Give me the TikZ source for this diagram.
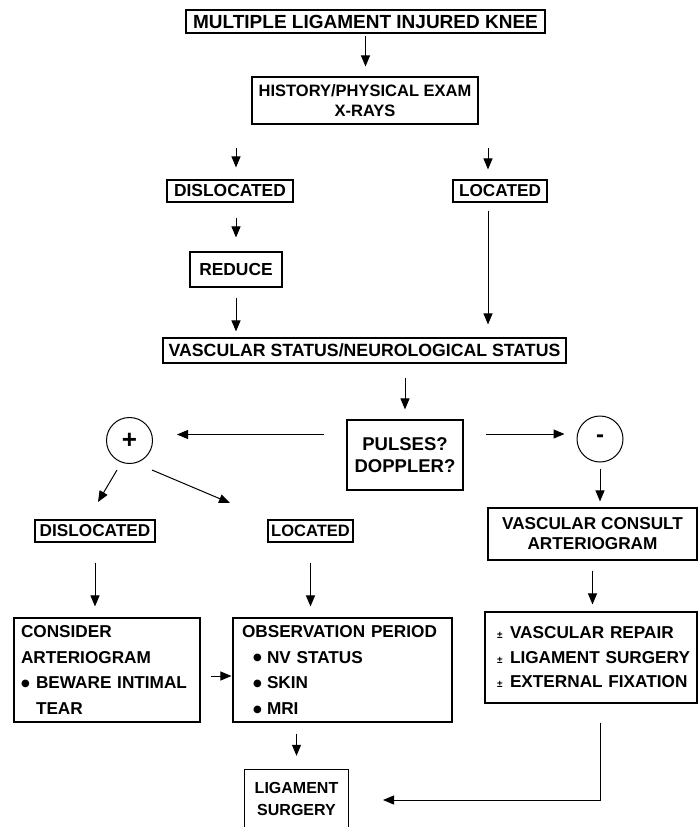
\documentclass[tikz,border=0pt]{standalone}
\usepackage{fontspec}
\setmainfont{Liberation Sans}
\newfontfamily\dejavu{DejaVu Sans}
\usetikzlibrary{arrows.meta,calc}
\newcommand\myfs[2]{\fontsize{#1pt}{#2pt}\selectfont\bfseries}
\newcommand\mybul{{\dejavu\fontsize{10pt}{10pt}\selectfont\raisebox{2.5pt}{●}}}
\newcommand\mypm{{\fontsize{10pt}{10pt}\selectfont ±}}
\begin{document}
\begin{tikzpicture}[x=1pt,y=-1pt,
  box/.style={draw, line width=1.1pt, inner sep=0pt, align=center},
  arr/.style={-{Triangle[length=11pt,width=9pt]}, line width=1pt},
  circ/.style={draw, circle, line width=1pt, minimum size=46pt, inner sep=0pt},
]
\path[use as bounding box] (0,0) rectangle (698,827);

\node[box, minimum width=359pt, minimum height=23pt, font=\myfs{19}{22}] (title) at (365.5,21.5) {MULTIPLE LIGAMENT INJURED KNEE};
\node[box, minimum width=226pt, minimum height=47pt, font=\myfs{16.5}{19.5}] (hist) at (365,100.5) {HISTORY/PHYSICAL EXAM\\X-RAYS};
\node[box, minimum width=126pt, minimum height=22pt, font=\myfs{17.4}{20}] (dis) at (230,191) {DISLOCATED};
\node[box, minimum width=94pt, minimum height=22pt, font=\myfs{17.2}{20}] (loc) at (500,191) {LOCATED};
\node[box, minimum width=92pt, minimum height=35pt, font=\myfs{17.4}{20}] (red) at (236,269.5) {REDUCE};
\node[box, minimum width=403pt, minimum height=25pt, font=\myfs{17.7}{20}] (vasc) at (364.5,350.5) {VASCULAR STATUS/NEUROLOGICAL STATUS};
\node[box, minimum width=116pt, minimum height=70pt, font=\myfs{18.5}{22}] (pulses) at (405,455) {PULSES?\\DOPPLER?};
\node[circ, font=\myfs{26}{26}] (plus) at (129.5,440.5) {+};
\node[circ, font=\myfs{24}{24}] (minus) at (600,439) {-};
\node[box, minimum width=120pt, minimum height=22pt, font=\myfs{17.2}{20}] (dis2) at (95,531) {DISLOCATED};
\node[box, minimum width=85pt, minimum height=22pt, font=\myfs{16.5}{20}] (loc2) at (310.5,531) {LOCATED};
\node[box, align=left, text width=172pt, inner xsep=7pt, inner ysep=0pt, minimum height=104pt, font=\myfs{17.2}{25.7}] (cons) at (107,670)
  {\mbox{CONSIDER}\\\mbox{ARTERIOGRAM}\\\mbox{\makebox[15pt][l]{\mybul}BEWARE INTIMAL}\\\mbox{\hspace*{15pt}TEAR}};
\node[box, align=left, text width=201pt, inner xsep=9pt, inner ysep=0pt, minimum height=104pt, font=\myfs{17.2}{25.7}] (obs) at (342.5,670)
  {\mbox{OBSERVATION PERIOD}\\\mbox{\hspace*{11pt}\makebox[14pt][l]{\mybul}NV STATUS}\\\mbox{\hspace*{11pt}\makebox[14pt][l]{\mybul}SKIN}\\\mbox{\hspace*{11pt}\makebox[14pt][l]{\mybul}MRI}};
\node[box, minimum width=209pt, minimum height=52pt, font=\myfs{17.2}{20}] (vcons) at (592.5,534) {VASCULAR CONSULT\\ARTERIOGRAM};
\node[box, align=left, text width=188pt, inner xsep=12pt, inner ysep=0pt, minimum height=91pt, font=\myfs{17.2}{24.5}] (pm) at (591,657.5)
  {\mbox{\makebox[13pt][l]{\mypm}VASCULAR REPAIR}\\\mbox{\makebox[13pt][l]{\mypm}LIGAMENT SURGERY}\\\mbox{\makebox[13pt][l]{\mypm}EXTERNAL FIXATION}};
\node[minimum width=103pt, minimum height=57pt, inner sep=0pt, align=center, font=\myfs{16}{22}] (lig) at (296.5,798.5) {LIGAMENT\\SURGERY};
\draw[line width=1.1pt] (lig.south west) -- (lig.north west) -- (lig.north east) -- (lig.south east);

\coordinate (ligin) at (383,800);
\coordinate (plusin) at ([yshift=6pt]plus.east);
\coordinate (minusin) at ([yshift=5pt]minus.west);
\coordinate (locx) at ($(loc.north)+(-12,0)$);

\draw[arr, shorten <=2pt, shorten >=10pt] (title.south) -- (title.south |- hist.north);
\draw[arr, shorten <=23pt, shorten >=12pt] (hist.south -| red.north) -- (dis.north -| red.north);
\draw[arr, shorten <=23pt, shorten >=10pt] (hist.south -| locx) -- (loc.north -| locx);
\draw[arr, shorten <=15pt, shorten >=14pt] (dis.south -| red.north) -- (red.north);
\draw[arr, shorten <=10pt, shorten >=6pt] (red.south) -- (red.south |- vasc.north);
\draw[arr, shorten <=8pt, shorten >=13pt] (loc.south -| locx) -- (vasc.north -| locx);
\draw[arr, shorten <=14pt, shorten >=10pt] (vasc.south -| pulses.north) -- (pulses.north);
\draw[arr, shorten <=22pt, shorten >=24pt] (pulses.west |- plusin) -- (plusin);
\draw[arr, shorten <=22pt, shorten >=12pt] (pulses.east |- minusin) -- (minusin);
\draw[arr, shorten <=6pt, shorten >=6pt] (minus.south) -- (minus.south |- vcons.north);
\draw[arr, shorten <=10pt, shorten >=7pt] (vcons.south) -- (vcons.south |- pm.north);
\draw[arr] ($(plus)+(-12.5,29.5)$) -- ($(plus)+(-31.5,61.5)$);
\draw[arr] ($(plus)+(22.5,29.5)$) -- ($(plus)+(100.5,62.5)$);
\draw[arr, shorten <=20pt, shorten >=11pt] (dis2.south) -- (dis2.south |- cons.north);
\draw[arr, shorten <=20pt, shorten >=11pt] (loc2.south) -- (loc2.south |- obs.north);
\draw[arr, shorten <=10pt, shorten >=1pt] ([yshift=-6pt]cons.east) -- ([yshift=-6pt]obs.west);
\draw[arr, shorten <=11pt, shorten >=14pt] (obs.south -| lig.north) -- (lig.north);
\draw[arr, shorten <=19pt] (minus |- pm.south) -- (minus |- ligin) -- (ligin);
\end{tikzpicture}
\end{document}
